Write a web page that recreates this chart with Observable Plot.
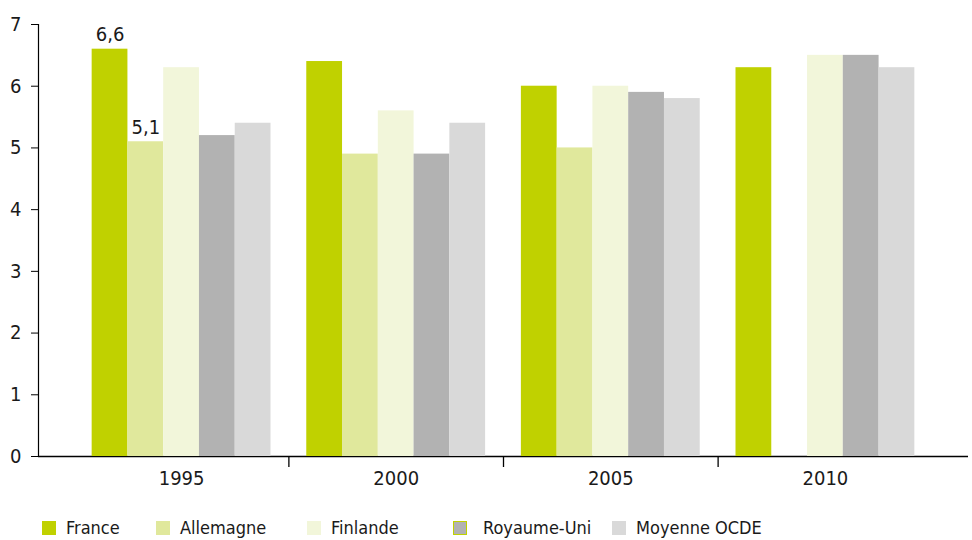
<!DOCTYPE html>
<html>
<head>
<meta charset="utf-8">
<script src="https://cdn.jsdelivr.net/npm/d3@7"></script>
<script src="https://cdn.jsdelivr.net/npm/@observablehq/plot@0.6"></script>
<style>
  html, body { margin: 0; padding: 0; background: #fff; }
  body { width: 972px; height: 540px; overflow: hidden; font-family: "DejaVu Sans Condensed", "DejaVu Sans", sans-serif; font-stretch: condensed; color: #1a1a1a; }
  #legend { position: relative; height: 40px; }
  .item { position: absolute; top: 21px; display: flex; align-items: center; font-size: 18px; line-height: 14px; }
  .sw { width: 14px; height: 14px; display: inline-block; box-sizing: border-box; }
</style>
</head>
<body>
<div id="chart"></div>
<div id="legend"></div>
<script>
const years = ["1995", "2000", "2005", "2010"];
const series = ["France", "Allemagne", "Finlande", "Royaume-Uni", "Moyenne OCDE"];
const colors = ["#c0d100", "#e0e89c", "#f2f6da", "#b2b2b2", "#d9d9d9"];
const france = [6.6, 6.4, 6.0, 6.3];
const allemagne = [5.1, 4.9, 5.0, null];
const finlande = [6.3, 5.6, 6.0, 6.5];
const royaumeUni = [5.2, 4.9, 5.9, 6.5];
const moyenneOCDE = [5.4, 5.4, 5.8, 6.3];
const yTicks = [0, 1, 2, 3, 4, 5, 6, 7];
const valueLabels = [
  {year: "1995", series: "France", text: "6,6", value: 6.6},
  {year: "1995", series: "Allemagne", text: "5,1", value: 5.1}
];
const legendLeft = [42, 156, 307, 453, 612];

const seriesValues = [france, allemagne, finlande, royaumeUni, moyenneOCDE];
const key = (y, s) => y + "|" + s;
const rows = [];
years.forEach((y, i) => series.forEach((s, j) => rows.push({key: key(y, s), year: y, series: s, value: seriesValues[j][i]})));

// band domain: 5 bars per year and an empty slot between years
const domain = [];
const gapKeys = [];
years.forEach((y, i) => {
  series.forEach(s => domain.push(key(y, s)));
  if (i < years.length - 1) { const g = "gap" + i; domain.push(g); gapKeys.push(g); }
});
const midKeys = years.map(y => key(y, series[2]));

const plot = Plot.plot({
  width: 972,
  height: 500,
  marginLeft: 38,
  marginRight: 4,
  marginTop: 24,
  marginBottom: 44,
  style: {fontFamily: '"DejaVu Sans Condensed", "DejaVu Sans", sans-serif', fontStretch: "condensed", fontSize: "19px", color: "#1a1a1a", background: "#fff"},
  x: {domain, paddingInner: 0, paddingOuter: 1.5, round: false, axis: null},
  y: {domain: [0, 7], axis: null},
  color: {domain: series, range: colors},
  marks: [
    Plot.ruleY([0], {stroke: "#000", strokeWidth: 1.6}),
    Plot.frame({anchor: "left", stroke: "#000", strokeWidth: 1.2}),
    Plot.barY(rows.filter(d => d.value != null), {x: "key", y: "value", fill: "series"}),
    Plot.axisY(yTicks, {tickSize: 7, tickPadding: 10, tickFormat: d => String(d), label: null, stroke: "#000", fontSize: 20}),
    Plot.axisX(gapKeys, {tickSize: 11, tickFormat: () => "", label: null, stroke: "#000", strokeWidth: 1.3}),
    Plot.axisX(midKeys, {tickSize: 0, tickPadding: 14, tickFormat: k => k.split("|")[0], label: null, fontSize: 20}),
    Plot.text(valueLabels, {x: d => key(d.year, d.series), y: "value", text: "text", dy: -8, lineAnchor: "bottom", fontSize: 20, fill: "#1a1a1a"})
  ]
});
document.getElementById("chart").appendChild(plot);

const legend = document.getElementById("legend");
series.forEach((s, i) => {
  const it = document.createElement("div");
  it.className = "item";
  it.style.left = legendLeft[i] + "px";
  const sw = document.createElement("span");
  sw.className = "sw";
  sw.style.background = colors[i];
  if (s === "Royaume-Uni") sw.style.border = "1.5px solid " + colors[0];
  const t = document.createElement("span");
  t.textContent = s;
  t.style.marginLeft = (s === "Royaume-Uni" ? 16 : 10) + "px";
  it.appendChild(sw); it.appendChild(t);
  legend.appendChild(it);
});
</script>
</body>
</html>
